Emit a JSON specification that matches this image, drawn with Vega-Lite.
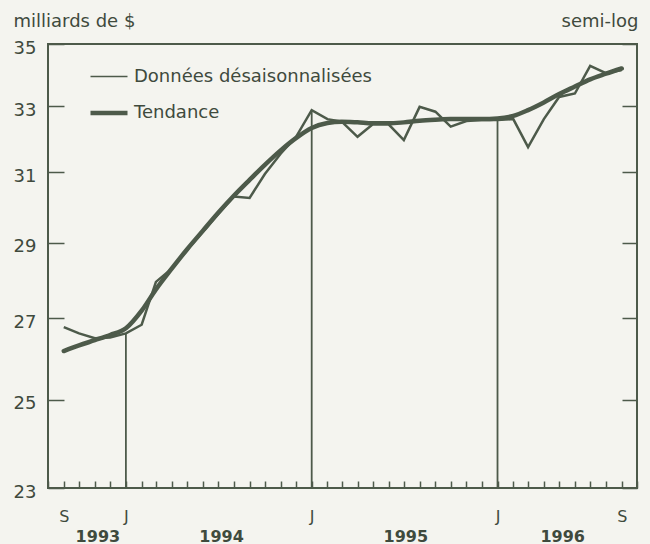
{
  "$schema": "https://vega.github.io/schema/vega-lite/v6.json",
  "autosize": "none",
  "width": 589,
  "height": 444,
  "padding": {"left": 48, "top": 44, "right": 13, "bottom": 56},
  "background": "#f4f4ef",
  "config": {
    "view": {"stroke": "#4d5a4a", "strokeWidth": 2},
    "font": "DejaVu Sans",
    "axis": {"labelColor": "#3f4a3d", "titleColor": "#3f4a3d", "tickColor": "#4d5a4a", "domain": false, "grid": false}
  },
  "data": {
    "values": [
      {"date": "1993/09/01", "raw": 26.78, "trend": 26.18},
      {"date": "1993/10/01", "raw": 26.62, "trend": 26.32},
      {"date": "1993/11/01", "raw": 26.5, "trend": 26.45},
      {"date": "1993/12/01", "raw": 26.52, "trend": 26.58},
      {"date": "1994/01/01", "raw": 26.62, "trend": 26.75},
      {"date": "1994/02/01", "raw": 26.84, "trend": 27.2},
      {"date": "1994/03/01", "raw": 27.95, "trend": 27.75},
      {"date": "1994/04/01", "raw": 28.3, "trend": 28.3},
      {"date": "1994/05/01", "raw": 28.8, "trend": 28.82},
      {"date": "1994/06/01", "raw": 29.3, "trend": 29.33},
      {"date": "1994/07/01", "raw": 29.8, "trend": 29.83},
      {"date": "1994/08/01", "raw": 30.3, "trend": 30.32},
      {"date": "1994/09/01", "raw": 30.26, "trend": 30.78},
      {"date": "1994/10/01", "raw": 30.95, "trend": 31.22},
      {"date": "1994/11/01", "raw": 31.55, "trend": 31.65},
      {"date": "1994/12/01", "raw": 32.05, "trend": 32.02},
      {"date": "1995/01/01", "raw": 32.88, "trend": 32.33},
      {"date": "1995/02/01", "raw": 32.6, "trend": 32.48},
      {"date": "1995/03/01", "raw": 32.52, "trend": 32.52},
      {"date": "1995/04/01", "raw": 32.06, "trend": 32.5},
      {"date": "1995/05/01", "raw": 32.44, "trend": 32.47},
      {"date": "1995/06/01", "raw": 32.44, "trend": 32.47},
      {"date": "1995/07/01", "raw": 31.96, "trend": 32.5},
      {"date": "1995/08/01", "raw": 32.98, "trend": 32.55},
      {"date": "1995/09/01", "raw": 32.83, "trend": 32.58},
      {"date": "1995/10/01", "raw": 32.37, "trend": 32.6},
      {"date": "1995/11/01", "raw": 32.54, "trend": 32.6},
      {"date": "1995/12/01", "raw": 32.57, "trend": 32.6},
      {"date": "1996/01/01", "raw": 32.57, "trend": 32.62},
      {"date": "1996/02/01", "raw": 32.6, "trend": 32.7},
      {"date": "1996/03/01", "raw": 31.75, "trend": 32.88},
      {"date": "1996/04/01", "raw": 32.6, "trend": 33.12},
      {"date": "1996/05/01", "raw": 33.29, "trend": 33.38},
      {"date": "1996/06/01", "raw": 33.4, "trend": 33.62},
      {"date": "1996/07/01", "raw": 34.28, "trend": 33.85},
      {"date": "1996/08/01", "raw": 34.05, "trend": 34.03},
      {"date": "1996/09/01", "raw": 34.15, "trend": 34.2}
    ]
  },
  "resolve": {"axis": {"x": "independent", "y": "independent"}},
  "layer": [
    {
      "mark": {"type": "line", "interpolate": "monotone", "color": "#4d5a4a", "strokeCap": "round"},
      "encoding": {
        "x": {
          "field": "date", "type": "temporal",
          "scale": {"domain": [{"year": 1993, "month": 8, "date": 1}, {"year": 1996, "month": 10, "date": 1}]},
          "axis": {
            "orient": "bottom",
            "title": null,
            "tickCount": {"interval": "month", "step": 1},
            "tickSize": -7,
            "tickWidth": 1.5,
            "labelExpr": "month(datum.value) == 0 ? 'J' : (month(datum.value) == 8 && (year(datum.value) == 1993 || year(datum.value) == 1996) ? 'S' : '')",
            "labelOverlap": false,
            "labelFontSize": 16,
            "labelPadding": 27,
            "labelBound": false,
            "labelFlush": false
          }
        },
        "y": {
          "field": "trend", "type": "quantitative",
          "scale": {"type": "log", "domain": [23, 35], "nice": false, "zero": false},
          "axis": {
            "orient": "left",
            "values": [23, 25, 27, 29, 31, 33, 35],
            "tickSize": -16,
            "tickWidth": 1.5,
            "labelFontSize": 18,
            "labelPadding": 28,
            "labelOffset": 4,
            "title": "milliards de $",
            "titleAngle": 0,
            "titleAlign": "left",
            "titleBaseline": "middle",
            "titleX": -35,
            "titleY": -23,
            "titleFontSize": 18,
            "titleFontWeight": "normal"
          }
        },
        "strokeWidth": {
          "datum": "Tendance", "type": "nominal",
          "scale": {"type": "ordinal", "domain": ["Données désaisonnalisées", "Tendance"], "range": [1.6, 4.5]},
          "legend": {
            "title": null,
            "orient": "none",
            "legendX": 40,
            "legendY": 13,
            "symbolType": "stroke",
            "symbolSize": 1369,
            "symbolStrokeColor": "#4d5a4a",
            "labelFontSize": 18,
            "labelColor": "#3f4a3d",
            "labelOffset": 4,
            "labelLimit": 400,
            "rowPadding": 6
          }
        }
      }
    },
    {
      "mark": {"type": "line", "color": "#4d5a4a"},
      "encoding": {
        "x": {
          "field": "date", "type": "temporal",
          "axis": {
            "orient": "bottom",
            "title": null,
            "values": [{"year": 1993, "month": 11, "date": 6}, {"year": 1994, "month": 7, "date": 7}, {"year": 1995, "month": 7, "date": 4}, {"year": 1996, "month": 5, "date": 7}],
            "format": "%Y",
            "ticks": false,
            "labelFontSize": 16,
            "labelFontWeight": "bold",
            "labelPadding": 40,
            "labelOverlap": false,
            "labelBound": false,
            "labelFlush": false
          }
        },
        "y": {
          "field": "raw", "type": "quantitative",
          "axis": {
            "orient": "right",
            "values": [23, 25, 27, 29, 31, 33, 35],
            "labels": false,
            "tickSize": -15,
            "tickWidth": 1.5,
            "title": "semi-log",
            "titleAngle": 0,
            "titleAlign": "right",
            "titleBaseline": "middle",
            "titleX": 1,
            "titleY": -23,
            "titleFontSize": 18,
            "titleFontWeight": "normal"
          }
        },
        "strokeWidth": {"datum": "Données désaisonnalisées", "type": "nominal"}
      }
    },
    {
      "transform": [{"filter": "month(toDate(datum.date)) == 0"}],
      "mark": {"type": "rule", "color": "#4d5a4a", "strokeWidth": 1.8},
      "encoding": {
        "x": {"field": "date", "type": "temporal", "axis": null},
        "y": {"field": "raw", "type": "quantitative", "axis": null},
        "y2": {"datum": 23}
      }
    }
  ]
}
